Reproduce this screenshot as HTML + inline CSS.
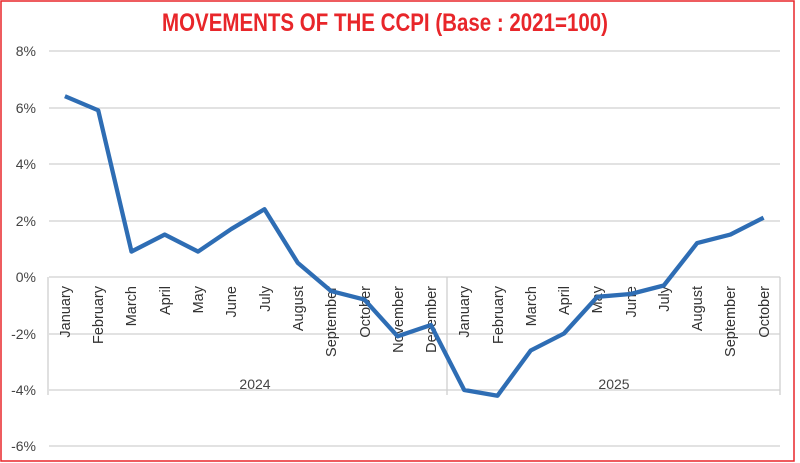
<!DOCTYPE html>
<html><head><style>body{margin:0;background:#fff}svg{display:block}</style></head><body>
<svg width="800" height="463" xmlns="http://www.w3.org/2000/svg" font-family="Liberation Sans, sans-serif">
<rect x="1" y="1" width="793" height="460" fill="#fff" stroke="#e8262a" stroke-width="1.5"/>
<text x="385" y="31" text-anchor="middle" font-size="25" font-weight="bold" fill="#e8262a" transform="translate(385 0) scale(0.82 1) translate(-385 0)">MOVEMENTS OF THE CCPI (Base : 2021=100)</text>
<g stroke="#d0d0d0" stroke-width="1.3">
<line x1="49" y1="51" x2="780" y2="51"/><line x1="49" y1="108" x2="780" y2="108"/>
<line x1="49" y1="164" x2="780" y2="164"/><line x1="49" y1="221" x2="780" y2="221"/>
<line x1="49" y1="277" x2="780" y2="277"/><line x1="49" y1="334" x2="780" y2="334"/>
<line x1="49" y1="390" x2="780" y2="390"/><line x1="49" y1="446" x2="780" y2="446"/>
<line x1="48" y1="277" x2="48" y2="395"/><line x1="447" y1="277" x2="447" y2="395"/><line x1="780" y1="277" x2="780" y2="395"/>
</g>
<g font-size="14" fill="#444" text-anchor="end">
<text x="36" y="56">8%</text><text x="36" y="113">6%</text><text x="36" y="169">4%</text><text x="36" y="226">2%</text><text x="36" y="282">0%</text><text x="36" y="339">-2%</text><text x="36" y="395">-4%</text><text x="36" y="451">-6%</text>
</g>
<g font-size="14.5" fill="#333" text-anchor="end">
<text transform="translate(70 286) rotate(-90)">January</text>
<text transform="translate(103 286) rotate(-90)">February</text>
<text transform="translate(136 286) rotate(-90)">March</text>
<text transform="translate(170 286) rotate(-90)">April</text>
<text transform="translate(203 286) rotate(-90)">May</text>
<text transform="translate(236 286) rotate(-90)">June</text>
<text transform="translate(270 286) rotate(-90)">July</text>
<text transform="translate(303 286) rotate(-90)">August</text>
<text transform="translate(336 286) rotate(-90)">September</text>
<text transform="translate(370 286) rotate(-90)">October</text>
<text transform="translate(403 286) rotate(-90)">November</text>
<text transform="translate(436 286) rotate(-90)">December</text>
<text transform="translate(469 286) rotate(-90)">January</text>
<text transform="translate(503 286) rotate(-90)">February</text>
<text transform="translate(536 286) rotate(-90)">March</text>
<text transform="translate(569 286) rotate(-90)">April</text>
<text transform="translate(602 286) rotate(-90)">May</text>
<text transform="translate(636 286) rotate(-90)">June</text>
<text transform="translate(669 286) rotate(-90)">July</text>
<text transform="translate(702 286) rotate(-90)">August</text>
<text transform="translate(735 286) rotate(-90)">September</text>
<text transform="translate(769 286) rotate(-90)">October</text>
</g>
<g font-size="14" fill="#444" text-anchor="middle"><text x="255" y="389">2024</text><text x="614" y="389">2025</text></g>
<polyline fill="none" stroke="#2e6db4" stroke-width="4.3" stroke-linejoin="round" points="64.9,96.2 98.2,110.3 131.5,251.6 164.7,234.6 198,251.6 231.3,229 264.5,209.2 297.8,262.9 331.1,291.1 364.4,299.6 397.6,336.3 430.9,325 464.2,390 497.5,395.7 530.7,350.5 564,333.5 597.3,296.8 630.5,294 663.8,285.5 697.1,243.1 730.4,234.6 763.6,217.7"/>
</svg>
</body></html>
